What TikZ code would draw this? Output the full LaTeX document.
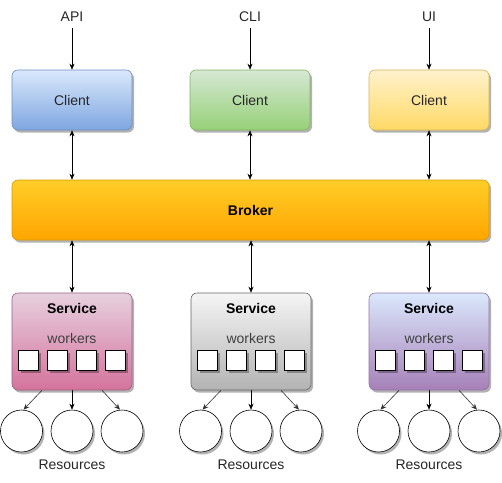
\documentclass[tikz,border=0pt]{standalone}
\usepackage{fontspec}
\setmainfont{Liberation Sans}
\usetikzlibrary{arrows.meta,shadows}
\definecolor{bluetop}{HTML}{DAE8FC}\definecolor{bluebot}{HTML}{7EA6E0}\definecolor{bluedr}{HTML}{6C8EBF}
\definecolor{greentop}{HTML}{D5E8D4}\definecolor{greenbot}{HTML}{97D077}\definecolor{greendr}{HTML}{82B366}
\definecolor{yeltop}{HTML}{FFF2CC}\definecolor{yelbot}{HTML}{FFD966}\definecolor{yeldr}{HTML}{D6B656}
\definecolor{orgtop}{HTML}{FFCD28}\definecolor{orgbot}{HTML}{FFA500}\definecolor{orgdr}{HTML}{D79B00}
\definecolor{pinktop}{HTML}{E6D0DE}\definecolor{pinkbot}{HTML}{D5739D}\definecolor{pinkdr}{HTML}{996185}
\definecolor{graytop}{HTML}{F5F5F5}\definecolor{graybot}{HTML}{B3B3B3}\definecolor{graydr}{HTML}{666666}
\definecolor{purtop}{HTML}{DAE8FC}\definecolor{purbot}{HTML}{A680B8}\definecolor{purdr}{HTML}{9673A6}
\begin{document}
\begin{tikzpicture}[x=1pt,y=-1pt,
  shad/.style={drop shadow={shadow xshift=2pt,shadow yshift=-2.5pt,opacity=0.3,fill=black}},
  txt/.style={font=\fontsize{14}{16}\selectfont, inner sep=0pt, text=black!85},
  box/.style={draw, rounded corners=6pt, inner sep=0pt, shad, line width=0.6pt,
    font=\fontsize{14}{16}\selectfont, text=black!85},
  client/.style={box, minimum width=120pt, minimum height=60pt},
  service/.style={box, minimum width=120pt, minimum height=97pt},
  worker/.style={draw, fill=white, minimum size=20pt, inner sep=0pt, shad, line width=0.6pt},
  res/.style={draw, circle, fill=white, minimum size=42pt, inner sep=0pt, shad, line width=0.6pt},
  arr/.style={-{Stealth[length=6pt,width=5pt]}, line width=0.6pt},
  darr/.style={{Stealth[length=6pt,width=5pt]}-{Stealth[length=6pt,width=5pt]}, line width=0.6pt}
]
\useasboundingbox (0,0) rectangle (502,482);

% top labels
\node[txt, inner sep=6pt] (api) at (72,17) {API};
\node[txt, inner sep=6pt] (cli) at (250,17) {CLI};
\node[txt, inner sep=6pt] (ui) at (429,17) {UI};

% clients
\node[client, draw=bluedr, top color=bluetop, bottom color=bluebot] (c1) at (72,100) {Client};
\node[client, draw=greendr, top color=greentop, bottom color=greenbot] (c2) at (250,100) {Client};
\node[client, draw=yeldr, top color=yeltop, bottom color=yelbot] (c3) at (429,100) {Client};

% broker
\node[box, draw=orgdr, top color=orgtop, bottom color=orgbot, minimum width=477pt, minimum height=60pt, font=\fontsize{14}{16}\selectfont\bfseries, text=black] (broker) at (250.5,210) {Broker};

% services
\node[service, draw=pinkdr, top color=pinktop, bottom color=pinkbot] (s1) at (72,341.5) {};
\node[service, draw=graydr, top color=graytop, bottom color=graybot] (s2) at (251,341.5) {};
\node[service, draw=purdr, top color=purtop, bottom color=purbot] (s3) at (429,341.5) {};

\foreach \s/\x in {1/72, 2/251, 3/429} {
  \node[txt, font=\fontsize{14}{16}\selectfont\bfseries, text=black] (st\s) at (\x,308) {Service};
  \node[txt, text=black!75] (wk\s) at (\x,338) {workers};
  \node[worker] (w\s a) at (\x-43.5,360) {};
  \node[worker] (w\s b) at (\x-14.5,360) {};
  \node[worker] (w\s c) at (\x+14.5,360) {};
  \node[worker] (w\s d) at (\x+43.5,360) {};
  \node[res] (r\s a) at (\x-50.5,431) {};
  \node[res] (r\s b) at (\x,431) {};
  \node[res] (r\s c) at (\x+50,431) {};
  \node[txt] (rt\s) at (\x,465) {Resources};
  \draw[arr, black!80] ([xshift=-30pt]s\s.south) -- ([xshift=2pt]r\s a.north);
  \draw[arr] (s\s.south) -- (r\s b.north);
  \draw[arr, black!80] ([xshift=30pt]s\s.south) -- ([xshift=-2pt]r\s c.north);
}

% arrows
\draw[arr] (api) -- (c1);
\draw[arr] (cli) -- (c2);
\draw[arr] (ui) -- (c3);
\draw[darr] (c1) -- (c1 |- broker.north);
\draw[darr] (c2) -- (c2 |- broker.north);
\draw[darr] (c3) -- (c3 |- broker.north);
\draw[darr] (s1 |- broker.south) -- (s1);
\draw[darr] (s2 |- broker.south) -- (s2);
\draw[darr] (s3 |- broker.south) -- (s3);
\end{tikzpicture}
\end{document}
